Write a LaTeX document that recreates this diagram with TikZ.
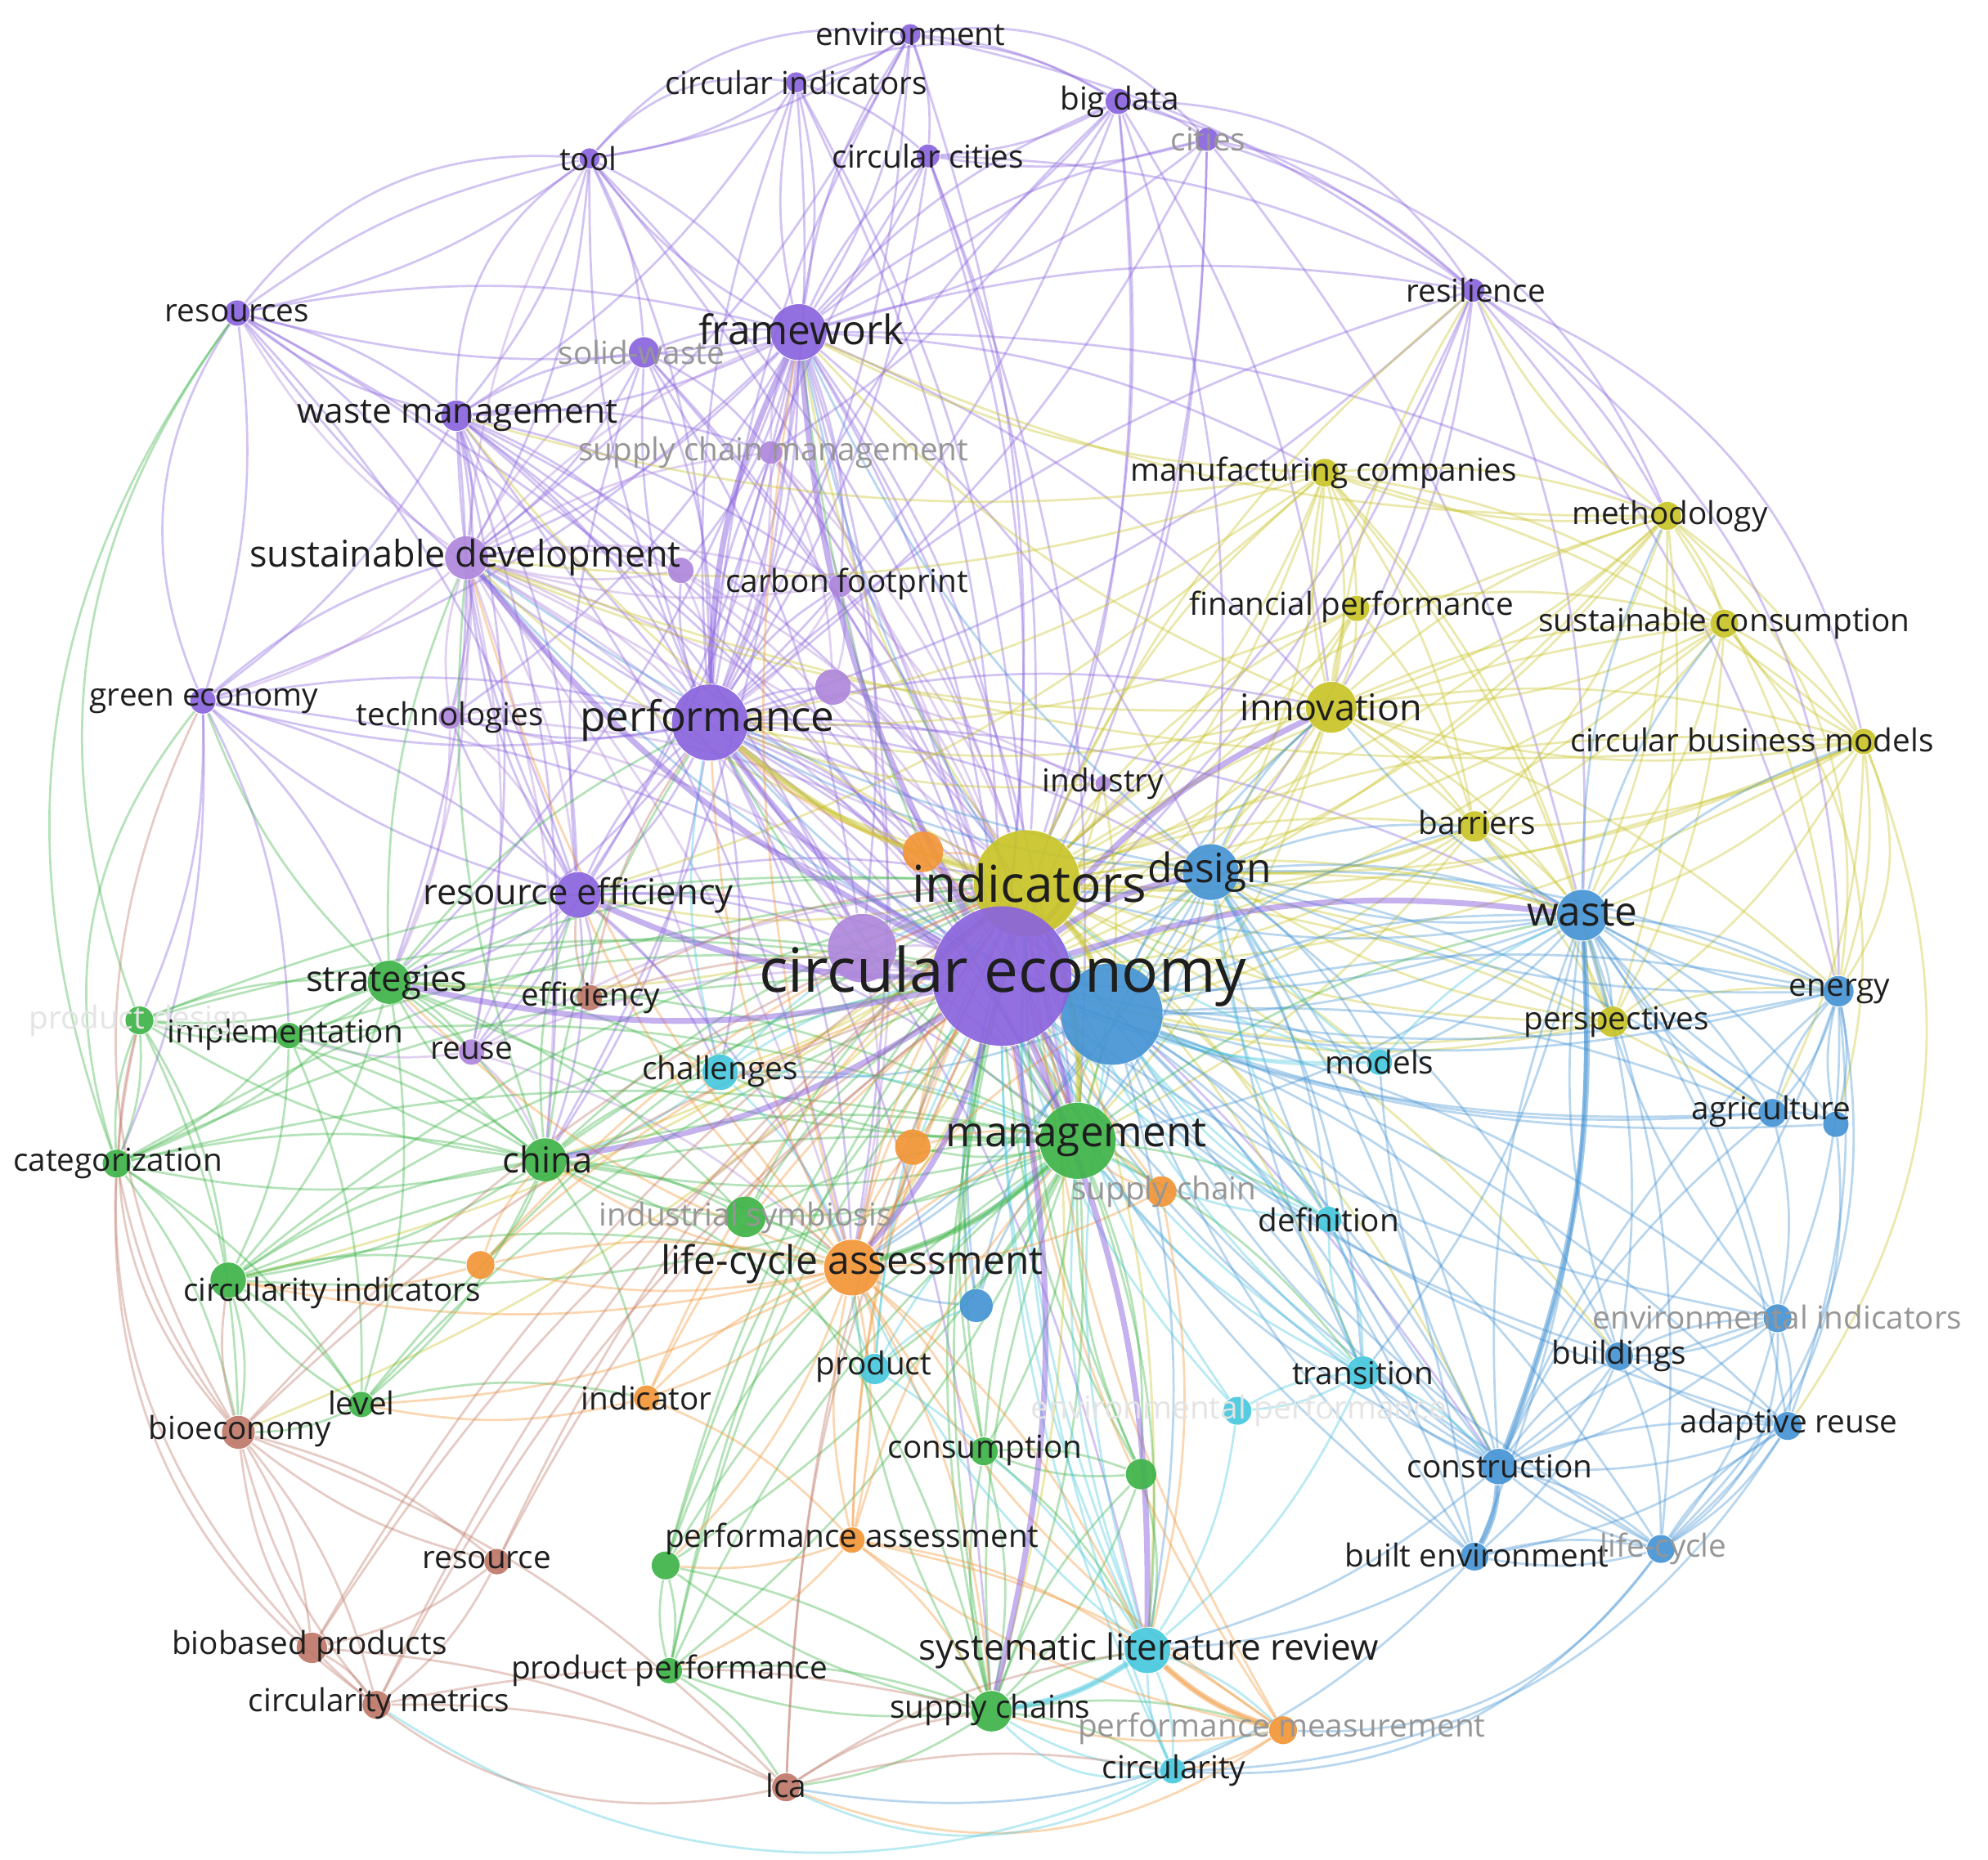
\documentclass[tikz,border=0pt]{standalone}
\usepackage{fontspec}
\setmainfont{Open Sans}
\pgfdeclarelayer{bg}\pgfdeclarelayer{edges}\pgfdeclarelayer{labels}
\pgfsetlayers{bg,edges,main,labels}
\definecolor{cPu}{RGB}{138,100,222}
\definecolor{cLp}{RGB}{175,135,220}
\definecolor{cYe}{RGB}{200,196,40}
\definecolor{cBl}{RGB}{70,148,212}
\definecolor{cGr}{RGB}{62,180,72}
\definecolor{cOr}{RGB}{242,150,55}
\definecolor{cCy}{RGB}{72,200,222}
\definecolor{cBr}{RGB}{190,120,105}
\definecolor{txtdark}{RGB}{30,30,30}
\definecolor{txtgrey}{RGB}{150,150,150}
\definecolor{txtfaint}{RGB}{228,228,228}
\newcommand\lsz[1]{\fontsize{#1}{#1}\selectfont}
\tikzset{
  dot/.style 2 args={circle, inner sep=0pt, fill=#2, fill opacity=0.92, minimum size={#1*0.569pt}},
  lab/.style={inner sep=0pt, text=txtdark, font=\lsz{#1}},
  glab/.style={lab=#1, text=txtgrey},
  flab/.style={lab=#1, text=txtfaint},
  lnk/.style={draw=#1, draw opacity=0.38, line width=0.5pt},
  hlnk/.style={draw=#1, draw opacity=0.5, line width=1.3pt}
}
\begin{document}
\begin{tikzpicture}[x=0.01cm, y=-0.01cm]
\begin{pgfonlayer}{bg}
\fill[white] (0,0) rectangle (1568,1467);
\end{pgfonlayer}
\useasboundingbox (0,0) rectangle (1568,1467);
% ---------- nodes (circles) ----------
% purple
\node[dot={8}{cPu}] (env) at (718,27) {};
\node[dot={8}{cPu}] (cind) at (628,65) {};
\node[dot={10}{cPu}] (bigd) at (882,80) {};
\node[dot={9}{cPu}] (cities) at (952,110) {};
\node[dot={8}{cPu}] (tool) at (465,125) {};
\node[dot={9}{cPu}] (ccities) at (732,123) {};
\node[dot={10}{cPu}] (resources) at (187,247) {};
\node[dot={22}{cPu}] (fw) at (630,262) {};
\node[dot={12}{cPu}] (solid) at (508,278) {};
\node[dot={12}{cPu}] (wm) at (360,328) {};
\node[dot={9}{cLp}] (scm) at (608,357) {};
\node[dot={9}{cPu}] (resil) at (1162,229) {};
\node[dot={17}{cLp}] (sd) at (368,440) {};
\node[dot={10}{cLp}] (policy) at (537,450) {};
\node[dot={9}{cLp}] (cfp) at (663,462) {};
\node[dot={10}{cPu}] (geco) at (160,553) {};
\node[dot={9}{cLp}] (tech) at (355,566) {};
\node[dot={30}{cPu}] (perf) at (560,570) {};
\node[dot={14}{cLp}] (lp1) at (657,542) {};
\node[dot={18}{cPu}] (reff) at (456,706) {};
\node[dot={10}{cLp}] (reuse) at (372,830) {};
\node[dot={27}{cLp}] (lpb) at (680,748) {};
% yellow
\node[dot={42}{cYe}] (ind) at (810,697) {};
\node[dot={11}{cYe}] (mfg) at (1045,373) {};
\node[dot={11}{cYe}] (meth) at (1315,407) {};
\node[dot={10}{cYe}] (finp) at (1070,480) {};
\node[dot={11}{cYe}] (scons) at (1360,492) {};
\node[dot={20}{cYe}] (innov) at (1050,558) {};
\node[dot={10}{cYe}] (cbm) at (1470,585) {};
\node[dot={12}{cYe}] (barr) at (1163,652) {};
\node[dot={12}{cYe}] (persp) at (1272,806) {};
\node[dot={6}{cLp}] (indus) at (870,618) {};
% blue
\node[dot={40}{cBl}] (bb) at (877,800) {};
\node[dot={22}{cBl}] (design) at (955,688) {};
\node[dot={20}{cBl}] (waste) at (1248,722) {};
\node[dot={12}{cBl}] (energy) at (1450,782) {};
\node[dot={11}{cBl}] (agri) at (1398,878) {};
\node[dot={10}{cBl}] (agri2) at (1448,887) {};
\node[dot={13}{cBl}] (bs) at (770,1030) {};
\node[dot={11}{cBl}] (envind) at (1402,1040) {};
\node[dot={11}{cBl}] (build) at (1277,1070) {};
\node[dot={11}{cBl}] (adapt) at (1410,1125) {};
\node[dot={14}{cBl}] (constr) at (1182,1157) {};
\node[dot={11}{cBl}] (builtenv) at (1163,1228) {};
\node[dot={11}{cBl}] (lifec) at (1310,1222) {};
% green
\node[dot={30}{cGr}] (mgmt) at (850,900) {};
\node[dot={17}{cGr}] (strat) at (307,775) {};
\node[dot={10}{cGr}] (impl) at (228,817) {};
\node[dot={11}{cGr}] (pdesign) at (110,805) {};
\node[dot={11}{cGr}] (categ) at (92,918) {};
\node[dot={17}{cGr}] (china) at (430,915) {};
\node[dot={16}{cGr}] (isym) at (588,960) {};
\node[dot={14}{cGr}] (circind) at (180,1010) {};
\node[dot={10}{cGr}] (level) at (285,1108) {};
\node[dot={11}{cGr}] (cons) at (776,1145) {};
\node[dot={12}{cGr}] (g1) at (900,1163) {};
\node[dot={11}{cGr}] (g2) at (525,1235) {};
\node[dot={10}{cGr}] (prodperf) at (528,1318) {};
\node[dot={16}{cGr}] (supch) at (782,1350) {};
% cyan
\node[dot={14}{cCy}] (chall) at (568,846) {};
\node[dot={10}{cCy}] (models) at (1088,838) {};
\node[dot={10}{cCy}] (defin) at (1048,962) {};
\node[dot={12}{cCy}] (product) at (690,1080) {};
\node[dot={13}{cCy}] (trans) at (1075,1083) {};
\node[dot={11}{cCy}] (envperf) at (976,1113) {};
\node[dot={18}{cCy}] (slr) at (905,1302) {};
\node[dot={10}{cCy}] (circ) at (925,1397) {};
% orange
\node[dot={16}{cOr}] (o1) at (728,672) {};
\node[dot={14}{cOr}] (o2) at (720,905) {};
\node[dot={12}{cOr}] (supc) at (916,940) {};
\node[dot={22}{cOr}] (lcassess) at (672,1000) {};
\node[dot={11}{cOr}] (o3) at (379,998) {};
\node[dot={10}{cOr}] (indic) at (510,1103) {};
\node[dot={10}{cOr}] (passess) at (672,1215) {};
\node[dot={11}{cOr}] (pmeas) at (1012,1365) {};
% brown
\node[dot={13}{cBr}] (bioeco) at (188,1130) {};
\node[dot={10}{cBr}] (resource) at (392,1232) {};
\node[dot={12}{cBr}] (biob) at (246,1300) {};
\node[dot={11}{cBr}] (cmetrics) at (297,1345) {};
\node[dot={11}{cBr}] (lcab) at (620,1410) {};
\node[dot={10}{cBr}] (effic) at (465,787) {};
% the central node last so it sits on top
\node[dot={55}{cPu}] (ce) at (790,770) {};
% ---------- connectors ----------
\begin{pgfonlayer}{edges}
\foreach \a/\c/\t in {
 env/cPu/{ce,fw,cind,bigd,ccities,perf,resil,tool,sd},
 cind/cPu/{ce,fw,tool,perf,ccities,ind,wm},
 bigd/cPu/{ce,fw,cities,ccities,perf,resil,design,innov,ind,scm},
 cities/cPu/{ce,fw,ccities,resil,perf,ind,waste},
 tool/cPu/{ce,fw,wm,resources,perf,sd,solid,ind},
 ccities/cPu/{ce,fw,perf,ind,resil,mgmt},
 resources/cPu/{ce,wm,sd,geco,tool,fw,perf,reff},
 fw/cPu/{ce,ind,perf,sd,wm,solid,scm,cfp,mgmt,lcassess,design,innov,reff,china,lpb,env,cind,bigd,cities,ccities,tool,resources,geco,tech,policy,reuse,strat,resil,mfg,meth},
 solid/cPu/{ce,wm,fw,perf,sd,scm,lpb,mgmt},
 wm/cPu/{ce,sd,perf,reff,geco,ind,lcassess,china,strat,mgmt,lpb,solid,scm,resources,tech,policy,reuse,cfp},
 scm/cLp/{ce,perf,fw,mgmt,ind,cfp,lp1},
 resil/cPu/{ce,ind,design,waste,energy,innov,perf,meth},
 sd/cLp/{ce,perf,reff,geco,tech,ind,mgmt,strat,china,lpb,lcassess,reuse,tool,resources,solid,scm,cfp,fw,policy,chall},
 policy/cLp/{ce,perf,sd,ind},
 cfp/cLp/{ce,perf,lp1,ind,lcassess,mgmt,sd},
 geco/cPu/{ce,sd,perf,reff,strat,pdesign,impl,categ},
 tech/cLp/{ce,perf,reff,sd,ind,strat},
 perf/cPu/{ce,ind,mgmt,lcassess,reff,lp1,lpb,design,china,strat,chall,innov,o1,bb,supch,indus,env,cind,bigd,ccities,tool,resources,solid,scm,cfp,geco,tech,policy,resil,waste,slr,constr},
 lp1/cLp/{ce,ind,perf,design},
 reff/cPu/{ce,ind,perf,mgmt,strat,china,lpb,reuse,lcassess,chall,effic,sd,wm,solid,tech,geco},
 reuse/cLp/{ce,reff,strat,impl,china,ind,lcassess},
 lpb/cLp/{ce,ind,mgmt,lcassess},
 ind/cYe/{ce,mgmt,lcassess,design,bb,innov,waste,o1,o2,chall,slr,constr,china,fw,perf,sd,wm,reff,strat,mfg,meth,finp,scons,cbm,barr,persp,resil,energy,agri,build,trans,defin,models,supch,circind,bioeco},
 mfg/cYe/{ce,ind,innov,finp,meth,barr,fw,perf,design,cbm,sd,wm,reff,persp,waste,scons},
 meth/cYe/{ce,ind,innov,scons,cbm,barr,mfg,waste,energy,persp,design,fw,resil},
 finp/cYe/{ce,ind,innov,barr,scons,perf},
 scons/cYe/{ce,ind,innov,cbm,barr,persp,waste},
 innov/cYe/{ce,ind,design,barr,cbm,persp,mgmt,waste,perf,bb,fw,sd,mfg,finp,scons,meth,resil,energy},
 cbm/cYe/{ce,ind,innov,barr,persp,waste,design,energy,scons,agri,sd},
 barr/cYe/{ce,ind,design,waste,persp,bb,mgmt},
 persp/cYe/{ce,ind,waste,design,bb,energy},
 indus/cYe/{ce,ind,perf,mgmt},
 design/cBl/{ce,ind,waste,bb,mgmt,lcassess,constr,build,energy,perf,fw,sd,innov,barr,models,defin,trans,agri,builtenv},
 waste/cBl/{ce,ind,bb,energy,agri,constr,mgmt,design,envind,persp,build,builtenv,lifec,adapt,agri2,barr,innov,meth,scons,cbm,models,trans},
 energy/cBl/{ce,waste,agri,agri2,envind,adapt,bb,build,design},
 agri/cBl/{ce,waste,energy,agri2,bb,envind},
 agri2/cBl/{ce,waste,energy},
 bb/cBl/{ce,ind,mgmt,lcassess,constr,builtenv,slr,chall,perf,fw,sd,waste,design,energy,agri,envind,build,adapt,lifec,trans,defin,models,innov,barr},
 bs/cBl/{ce,ind,lcassess,mgmt,bb},
 envind/cBl/{ce,build,adapt,constr,lifec,waste},
 build/cBl/{ce,constr,adapt,builtenv,lifec,envind,waste},
 adapt/cBl/{ce,constr,builtenv,lifec,build},
 constr/cBl/{ce,bb,builtenv,lifec,mgmt,design,waste,slr,trans,envind,build,adapt,energy,agri,defin,models},
 builtenv/cBl/{ce,lifec,bb,design,slr},
 lifec/cBl/{ce,constr,builtenv,bb,adapt},
 mgmt/cGr/{ce,ind,lcassess,bb,supch,slr,china,cons,chall,o2,supc,perf,fw,strat,isym,circind,g1,g2,prodperf,trans,defin,product,design,waste},
 strat/cGr/{ce,ind,impl,pdesign,china,circind,mgmt,perf,chall,categ,reff,sd,geco,reuse,isym,level},
 impl/cGr/{ce,strat,pdesign,categ,china,circind,level,mgmt},
 pdesign/cGr/{ce,categ,circind,china,strat,ind,bioeco},
 categ/cGr/{ce,circind,pdesign,china,level,bioeco,ind,mgmt},
 china/cGr/{ce,ind,mgmt,lcassess,circind,isym,indic,perf,strat,reff,sd,impl,pdesign,categ,level,o3,chall,product},
 isym/cGr/{ce,ind,mgmt,lcassess,china,supch},
 circind/cGr/{ce,ind,mgmt,level,bioeco,lcassess,china,o3},
 level/cGr/{ce,ind,circind,bioeco,indic},
 cons/cGr/{ce,mgmt,supch,slr,ind,g1},
 g1/cGr/{ce,mgmt,slr,supch,ind,cons},
 g2/cGr/{ce,ind,mgmt,supch,prodperf,lcassess},
 prodperf/cGr/{ce,supch,g2,lcab,mgmt,ind},
 supch/cGr/{ce,mgmt,slr,circ,pmeas,ind,lcassess,g1,cons,prodperf,lcab,g2},
 chall/cCy/{ce,ind,mgmt,perf,lcassess,china},
 models/cCy/{ce,ind,design,waste,bb},
 defin/cCy/{ce,ind,mgmt,design,trans,bb},
 product/cCy/{ce,ind,mgmt,lcassess,slr,bs},
 trans/cCy/{ce,ind,mgmt,defin,slr,constr,envperf},
 envperf/cCy/{ce,ind,slr,trans},
 slr/cCy/{ce,ind,mgmt,circ,supch,pmeas,lcassess,bb},
 circ/cCy/{ce,slr,pmeas,supch,ind},
 o1/cOr/{ce,ind,perf,mgmt},
 o2/cOr/{ce,ind,mgmt,lcassess},
 supc/cOr/{ce,ind,mgmt,lcassess,slr},
 lcassess/cOr/{ce,ind,mgmt,o2,indic,o3,passess,bb,perf,fw,sd,reff,china,strat,circind,level,product,cons,supch,slr,g2},
 o3/cOr/{ce,ind,lcassess,circind,china},
 indic/cOr/{ce,ind,lcassess,passess,level},
 passess/cOr/{ce,ind,lcassess,mgmt,pmeas,supch,slr,g2,prodperf},
 pmeas/cOr/{ce,ind,slr,supch,circ,passess,lcassess},
 bioeco/cBr/{ce,ind,biob,cmetrics,resource,lcab,circind,categ},
 resource/cBr/{ce,ind,biob,cmetrics,bioeco},
 biob/cBr/{ce,cmetrics,lcab,bioeco,ind},
 cmetrics/cBr/{ce,lcab,ind,bioeco,supch},
 lcab/cBr/{ce,ind,slr,supch,circ},
 effic/cBr/{ce,ind,perf,reff}}{\foreach \b in \t {\draw[lnk=\c] (\a) to[bend left=12] (\b);}}
% outer arcs
\foreach \a/\b/\c in {
 env/cities/cPu, cind/bigd/cPu, cities/meth/cPu, bigd/resil/cPu, resil/energy/cPu, resil/cbm/cPu,
 meth/energy/cYe, scons/agri2/cYe, cbm/adapt/cYe, energy/lifec/cBl, agri2/lifec/cBl, adapt/circ/cBl,
 lifec/circ/cBl, builtenv/lcab/cBl, pmeas/lcab/cOr, circ/lcab/cCy, circ/cmetrics/cCy, lcab/biob/cBr,
 cmetrics/categ/cBr, biob/pdesign/cBr, bioeco/geco/cBr, categ/geco/cGr, pdesign/resources/cGr,
 geco/resources/cPu, resources/tool/cPu, wm/tool/cPu, tool/env/cPu, tool/cind/cPu,
 cbm/energy/cYe, envind/lifec/cBl, lifec/pmeas/cBl, circ/supch/cCy, categ/resources/cGr, bioeco/pdesign/cBr}{\draw[lnk=\c] (\a) to[bend left=28] (\b);}
% strong links
\foreach \a/\b/\c in {
 ce/ind/cPu, ce/bb/cPu, ce/perf/cPu, ce/mgmt/cPu, ce/lcassess/cPu, ce/lpb/cPu, ce/fw/cPu,
 ce/design/cPu, ce/waste/cPu, ce/innov/cPu, ind/bb/cYe, ind/mgmt/cYe, ind/perf/cYe, perf/fw/cPu,
 mgmt/lcassess/cGr, ce/slr/cPu, ce/supch/cPu, ce/china/cPu, ce/reff/cPu, ce/strat/cPu,
 constr/builtenv/cBl, waste/constr/cBl, slr/supch/cCy, pmeas/slr/cOr, ce/sd/cPu}{\draw[hlnk=\c] (\a) to[bend left=12] (\b);}
\end{pgfonlayer}
% ---------- labels ----------
\begin{pgfonlayer}{labels}
\node[lab=7.1] (env-l) at (718,27) {environment};
\node[lab=7.1] (cind-l) at (628,65) {circular indicators};
\node[lab=7.1] (bigd-l) at (883,80) {big data};
\node[glab=7.1] (cities-l) at (953,110) {cities};
\node[lab=7.1] (tool-l) at (464,125) {tool};
\node[lab=7.1] (ccities-l) at (732,123) {circular cities};
\node[lab=7.1] (resources-l) at (187,247) {resources};
\node[lab=9.1] (fw-l) at (632,260) {framework};
\node[glab=7.1] (solid-l) at (506,278) {solid-waste};
\node[lab=7.8] (wm-l) at (361,328) {waste management};
\node[glab=7.1] (scm-l) at (610,357) {supply chain management};
\node[lab=7.1] (resil-l) at (1164,229) {resilience};
\node[lab=8.25] (sd-l) at (367,440) {sustainable development};
\node[lab=7.1] (cfp-l) at (668,461) {carbon footprint};
\node[lab=7.1] (geco-l) at (161,553) {green economy};
\node[lab=7.1] (tech-l) at (355,566) {technologies};
\node[lab=9.4] (perf-l) at (558,568) {performance};
\node[lab=8.0] (reff-l) at (456,706) {resource efficiency};
\node[lab=8.0] (strat-l) at (305,775) {strategies};
\node[lab=7.1] (effic-l) at (466,787) {efficiency};
\node[lab=7.1] (impl-l) at (225,816) {implementation};
\node[flab=7.1] (pdesign-l) at (110,805) {product design};
\node[lab=7.1] (reuse-l) at (372,829) {reuse};
\node[lab=7.1] (chall-l) at (568,845) {challenges};
\node[lab=8.0] (china-l) at (432,915) {china};
\node[lab=7.1] (categ-l) at (93,918) {categorization};
\node[glab=7.1] (isym-l) at (588,961) {industrial symbiosis};
\node[lab=7.1] (circind-l) at (262,1020) {circularity indicators};
\node[lab=8.8] (lcassess-l) at (672,997) {life-cycle assessment};
\node[lab=9.4] (mgmt-l) at (849,898) {management};
\node[lab=11.4] (ind-l) at (812,697) {indicators};
\node[lab=9.1] (design-l) at (954,688) {design};
\node[lab=13.7] (ce-l) at (791,770) {circular economy};
\node[lab=7.1] (indus-l) at (870,618) {industry};
\node[lab=7.1] (mfg-l) at (1044,373) {manufacturing companies};
\node[lab=7.1] (meth-l) at (1317,407) {methodology};
\node[lab=7.1] (finp-l) at (1066,479) {financial performance};
\node[lab=7.1] (scons-l) at (1360,492) {sustainable consumption};
\node[lab=8.25] (innov-l) at (1050,558) {innovation};
\node[lab=7.1] (cbm-l) at (1382,584) {circular business models};
\node[lab=7.1] (barr-l) at (1165,649) {barriers};
\node[lab=9.1] (waste-l) at (1248,720) {waste};
\node[lab=7.1] (energy-l) at (1451,782) {energy};
\node[lab=7.1] (persp-l) at (1275,806) {perspectives};
\node[lab=7.1] (models-l) at (1088,838) {models};
\node[lab=7.1] (agri-l) at (1397,877) {agriculture};
\node[glab=7.1] (supc-l) at (918,940) {supply chain};
\node[lab=7.1] (defin-l) at (1048,962) {definition};
\node[glab=7.1] (envind-l) at (1402,1039) {environmental indicators};
\node[lab=7.1] (build-l) at (1277,1070) {buildings};
\node[lab=7.1] (product-l) at (689,1078) {product};
\node[lab=7.1] (trans-l) at (1075,1083) {transition};
\node[lab=7.1] (indic-l) at (510,1103) {indicator};
\node[lab=7.1] (level-l) at (285,1107) {level};
\node[lab=7.1] (bioeco-l) at (189,1129) {bioeconomy};
\node[lab=7.1] (adapt-l) at (1411,1124) {adaptive reuse};
\node[lab=7.1] (cons-l) at (777,1144) {consumption};
\node[flab=7.1] (envperf-l) at (977,1113) {environmental performance};
\node[lab=7.1] (constr-l) at (1183,1157) {construction};
\node[lab=7.1] (builtenv-l) at (1165,1227) {built environment};
\node[glab=7.1] (lifec-l) at (1312,1222) {life-cycle};
\node[lab=7.1] (passess-l) at (672,1214) {performance assessment};
\node[lab=7.1] (resource-l) at (384,1231) {resource};
\node[lab=7.1] (biob-l) at (244,1299) {biobased products};
\node[lab=8.1] (slr-l) at (906,1302) {systematic literature review};
\node[lab=7.1] (prodperf-l) at (528,1318) {product performance};
\node[lab=7.1] (cmetrics-l) at (299,1344) {circularity metrics};
\node[lab=7.1] (supch-l) at (781,1349) {supply chains};
\node[glab=7.1] (pmeas-l) at (1011,1364) {performance measurement};
\node[lab=7.1] (circ-l) at (926,1397) {circularity};
\node[lab=7.1] (lcab-l) at (620,1409) {lca};
\end{pgfonlayer}
\end{tikzpicture}
\end{document}
